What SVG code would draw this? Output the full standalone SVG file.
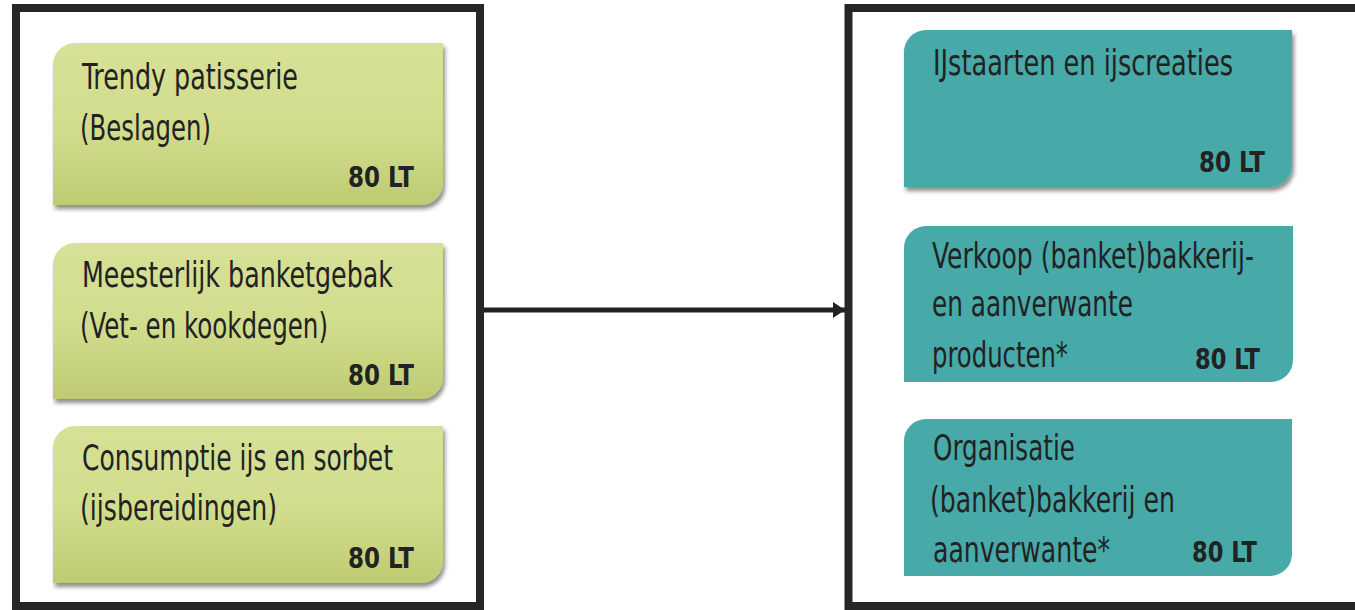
<svg xmlns="http://www.w3.org/2000/svg" width="1355" height="610" viewBox="0 0 1355 610">
<defs>
<linearGradient id="green" x1="0" y1="0" x2="0" y2="1">
<stop offset="0" stop-color="#d6e197"/>
<stop offset="0.55" stop-color="#d1dc8c"/>
<stop offset="1" stop-color="#bfcb72"/>
</linearGradient>
<filter id="shadow" x="-5%" y="-5%" width="115%" height="125%">
<feDropShadow dx="2" dy="4" stdDeviation="2.2" flood-color="#000" flood-opacity="0.45"/>
</filter>
<marker id="arrow" markerWidth="12" markerHeight="16" refX="12" refY="8" orient="auto" markerUnits="userSpaceOnUse">
<path d="M0,0 L12,8 L0,16 Z" fill="#222"/>
</marker>
</defs>
<style>
.frame{fill:#fff;stroke:#262626;stroke-width:8}
.g{fill:url(#green);filter:url(#shadow)}
.t{fill:#47aaa8}
.ts{fill:#47aaa8;filter:url(#shadow)}
.txt{font-family:"DejaVu Sans Condensed","DejaVu Sans",sans-serif;font-stretch:condensed;font-size:35px;fill:#222}
.num{font-family:"DejaVu Sans Condensed","DejaVu Sans",sans-serif;font-stretch:condensed;font-weight:bold;font-size:29px;fill:#222}
.conn{stroke:#222;stroke-width:5;fill:none}
</style>
<rect width="1355" height="610" fill="#fff"/>
<g id="left-frame"><rect class="frame" x="16" y="8" width="464" height="598"/></g>
<g id="right-frame"><rect class="frame" x="848.5" y="8" width="520" height="598"/></g>

<g id="connectors">
<line class="conn" x1="484" y1="310" x2="845" y2="310" marker-end="url(#arrow)"/>
</g>

<g id="node-trendy">
<path class="g" d="M75,43 H443 V183 A22,22 0 0 1 421,205 H53 V65 A22,22 0 0 1 75,43 Z"/>
<text class="txt" x="82" y="89" textLength="216" lengthAdjust="spacingAndGlyphs">Trendy patisserie</text>
<text class="txt" x="80" y="140" textLength="131" lengthAdjust="spacingAndGlyphs">(Beslagen)</text>
<text class="num" x="348" y="187" textLength="66" lengthAdjust="spacingAndGlyphs">80 LT</text>
</g>

<g id="node-meesterlijk">
<path class="g" d="M75,243 H443 V377 A22,22 0 0 1 421,399 H53 V265 A22,22 0 0 1 75,243 Z"/>
<text class="txt" x="82" y="287" textLength="311" lengthAdjust="spacingAndGlyphs">Meesterlijk banketgebak</text>
<text class="txt" x="80" y="338" textLength="248" lengthAdjust="spacingAndGlyphs">(Vet- en kookdegen)</text>
<text class="num" x="348" y="385" textLength="66" lengthAdjust="spacingAndGlyphs">80 LT</text>
</g>

<g id="node-consumptie">
<path class="g" d="M75,426 H443 V561 A22,22 0 0 1 421,583 H53 V448 A22,22 0 0 1 75,426 Z"/>
<text class="txt" x="82" y="470" textLength="311" lengthAdjust="spacingAndGlyphs">Consumptie ijs en sorbet</text>
<text class="txt" x="80" y="520" textLength="197" lengthAdjust="spacingAndGlyphs">(ijsbereidingen)</text>
<text class="num" x="348" y="568" textLength="66" lengthAdjust="spacingAndGlyphs">80 LT</text>
</g>

<g id="node-ijstaarten">
<path class="ts" d="M926,30 H1292 V165 A22,22 0 0 1 1270,187 H904 V52 A22,22 0 0 1 926,30 Z"/>
<text class="txt" x="933" y="75" textLength="300" lengthAdjust="spacingAndGlyphs">IJstaarten en ijscreaties</text>
<text class="num" x="1199" y="172" textLength="66" lengthAdjust="spacingAndGlyphs">80 LT</text>
</g>

<g id="node-verkoop">
<path class="t" d="M926,226 H1293 V360 A22,22 0 0 1 1271,382 H904 V248 A22,22 0 0 1 926,226 Z"/>
<text class="txt" x="932" y="268" textLength="322" lengthAdjust="spacingAndGlyphs">Verkoop (banket)bakkerij-</text>
<text class="txt" x="932" y="316" textLength="201" lengthAdjust="spacingAndGlyphs">en aanverwante</text>
<text class="txt" x="932" y="367" textLength="136" lengthAdjust="spacingAndGlyphs">producten*</text>
<text class="num" x="1195" y="369" textLength="65" lengthAdjust="spacingAndGlyphs">80 LT</text>
</g>

<g id="node-organisatie">
<path class="t" d="M926,419 H1292 V554 A22,22 0 0 1 1270,576 H904 V441 A22,22 0 0 1 926,419 Z"/>
<text class="txt" x="933" y="460" textLength="142" lengthAdjust="spacingAndGlyphs">Organisatie</text>
<text class="txt" x="930" y="512" textLength="245" lengthAdjust="spacingAndGlyphs">(banket)bakkerij en</text>
<text class="txt" x="933" y="562" textLength="177" lengthAdjust="spacingAndGlyphs">aanverwante*</text>
<text class="num" x="1192" y="562" textLength="65" lengthAdjust="spacingAndGlyphs">80 LT</text>
</g>
</svg>
